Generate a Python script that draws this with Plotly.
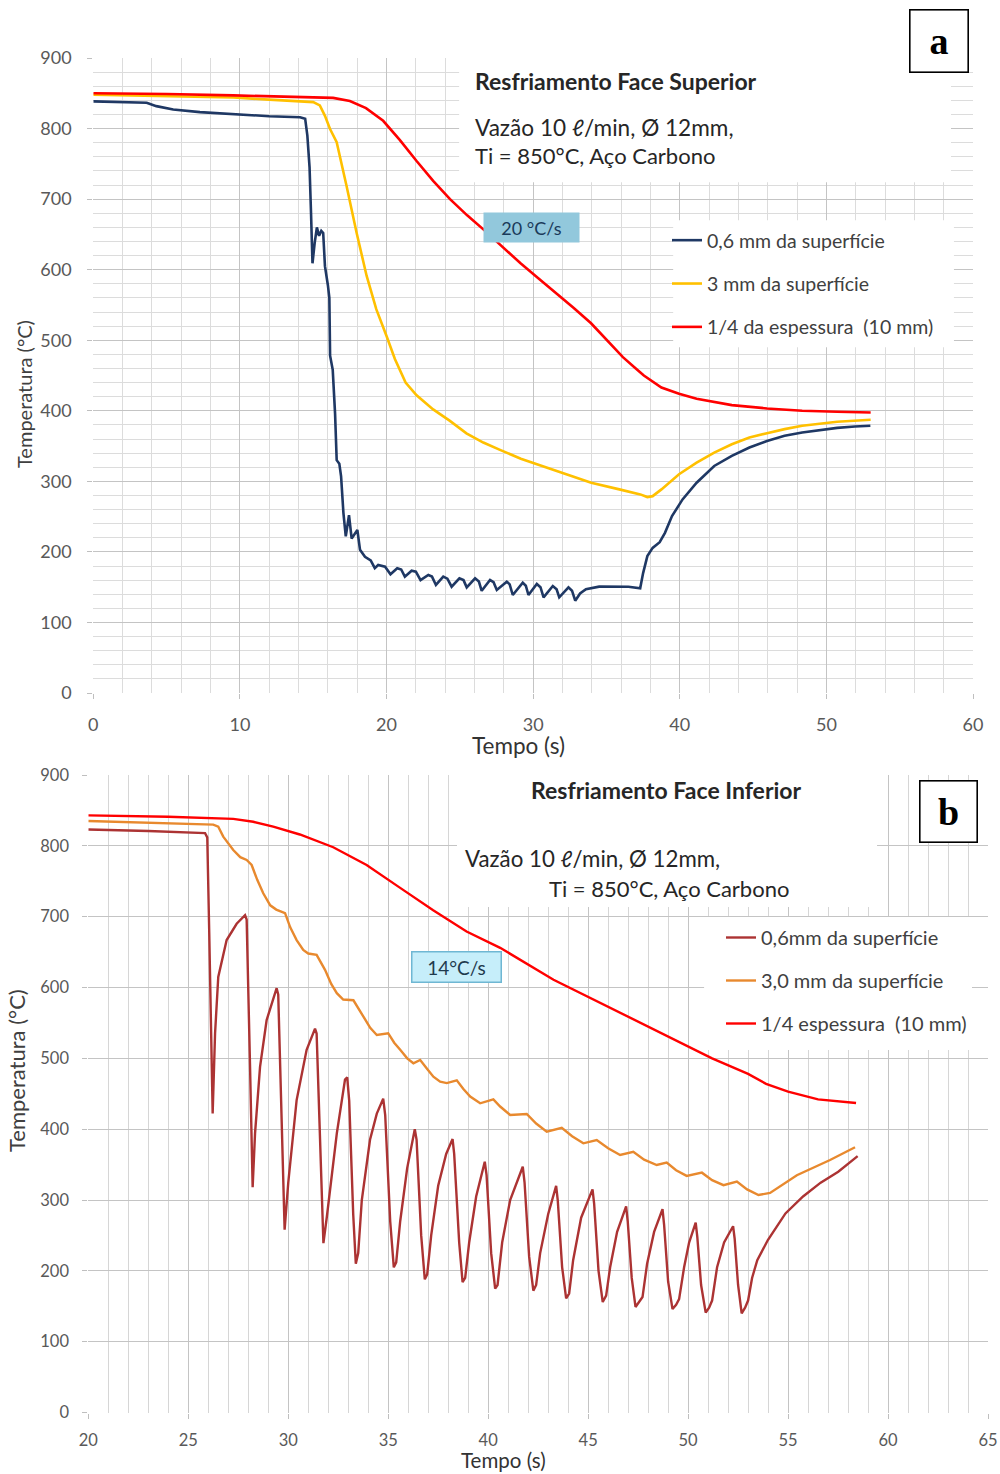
import plotly.graph_objects as go

# ---------------- Panel a (Resfriamento Face Superior) ----------------
a_blue_t = [0, 2, 3.64, 4.3, 5.45, 7.27, 10, 12, 14.1, 14.45, 14.6, 14.75, 14.85, 14.95, 15.1, 15.25,
            15.4, 15.55, 15.68, 15.8, 16.0, 16.1, 16.15, 16.33, 16.49, 16.6, 16.78, 16.9, 17.06, 17.22,
            17.44, 17.62, 18.01, 18.19, 18.53, 18.92, 19.2, 19.43, 19.9, 20.27, 20.73, 21.0, 21.25,
            21.71, 22.0, 22.32, 22.85, 23.1, 23.37, 23.87, 24.15, 24.44, 24.97, 25.25, 25.47, 26.04,
            26.3, 26.49, 27.06, 27.3, 27.52, 28.2, 28.4, 28.61, 29.29, 29.5, 29.68, 30.25, 30.5, 30.71,
            31.34, 31.6, 31.78, 32.41, 32.65, 32.87, 33.2, 33.6, 34.5, 35.5, 36.5, 37.3, 37.5, 37.79,
            38.15, 38.63, 38.99, 39.47, 40.19, 41.15, 42.35, 43.55, 44.75, 45.95, 47.15, 48.35, 49.54,
            50.74, 51.94, 53.0]
a_blue_T = [838.5, 838, 836.6, 831.8, 827, 823.3, 819.5, 817.5, 816, 814, 790, 745, 680, 609, 638, 660,
            648, 655, 652, 605, 578, 560, 478, 458, 396, 330, 325, 307, 255, 222,
            252, 219, 231, 203, 193, 188, 177, 181.4, 179, 168.2, 176.7, 175, 164.9,
            173.4, 172, 160.1, 167.2, 165, 153.1, 164.9, 162, 150.7, 162.5, 160, 149.7, 162.5,
            158, 144.9, 160.1, 157, 146.0, 157.8, 154, 138.9, 156.4, 152, 138.9, 154.5, 150, 135.6,
            151.6, 147, 135.6, 149.7, 145, 130.8, 141, 147, 150.7, 151, 150.5, 148.5, 170, 194,
            205.7, 213.7, 227, 250.7, 274.4, 298, 321.8, 336, 347.9, 357.3, 364.5, 369.2, 373,
            375.8, 377.7, 378.7]

a_yellow_t = [0, 5, 9.55, 12, 14, 15, 15.45, 15.8, 16.14, 16.6, 17.27, 17.95, 18.64, 19.3, 20.0, 20.57,
              21.3, 22.05, 23.18, 24.3, 25.45, 26.6, 27.7, 29.16, 31.56, 33.96, 35.88, 37.31, 37.79,
              38.15, 38.75, 39.95, 41.15, 42.35, 43.55, 44.75, 45.95, 47.15, 48.35, 49.54, 50.74, 53.02]
a_yellow_T = [848, 846, 844, 841, 838.5, 837.5, 832.8, 818, 799.7, 780.7, 719, 653, 591.4, 544, 506, 473.4,
              440, 422, 402, 386, 368, 355, 345, 332, 315, 298, 288.6, 281.5, 277.7,
              279, 288.6, 310, 326.5, 340.8, 352.6, 362, 368.2, 374, 378.7, 382, 384.4, 387.2]

a_red_t = [0, 5, 9.55, 14.1, 16.36, 17.5, 18.6, 19.77, 20.9, 22.05, 23.18, 24.33, 25.5, 26.72, 27.9,
           29.14, 30.35, 31.56, 32.75, 33.95, 35.05, 36.12, 37.0, 37.55, 38.75, 39.95, 41.15, 43.55,
           45.95, 48.35, 50.74, 53.02]
a_red_T = [850, 849, 847, 845, 843.5, 839, 829, 811, 784, 754, 726, 700, 677, 655, 632,
           609, 588, 567, 546, 524, 500, 476, 460, 450, 433, 424, 417, 408,
           403.3, 400, 398.6, 397.6]

# ---------------- Panel b (Resfriamento Face Inferior) ----------------
b_dark_t = [20, 23, 25.84, 25.95, 26.05, 26.22, 26.34, 26.5, 26.92, 27.42, 27.84, 27.92, 28.09, 28.22,
            28.34, 28.59, 28.92, 29.42, 29.5, 29.67, 29.82, 30.0, 30.42, 30.92, 31.34, 31.42, 31.6,
            31.76, 31.93, 32.43, 32.84, 32.95, 33.05, 33.25, 33.38, 33.5, 33.68, 34.09, 34.43, 34.75,
            34.85, 35.1, 35.28, 35.4, 35.6, 35.95, 36.33, 36.42, 36.65, 36.83, 36.95, 37.15, 37.5,
            37.9, 38.22, 38.3, 38.55, 38.72, 38.85, 39.05, 39.4, 39.83, 39.92, 40.15, 40.35, 40.47,
            40.7, 41.1, 41.73, 41.82, 42.05, 42.26, 42.4, 42.6, 43.0, 43.4, 43.48, 43.7, 43.9, 44.05,
            44.25, 44.65, 45.22, 45.3, 45.52, 45.73, 45.9, 46.1, 46.45, 46.9, 46.98, 47.18, 47.37,
            47.55, 47.72, 47.95, 48.3, 48.72, 48.8, 49.0, 49.22, 49.4, 49.55, 49.8, 50.05, 50.38,
            50.46, 50.65, 50.88, 51.05, 51.2, 51.45, 51.8, 52.25, 52.33, 52.5, 52.68, 52.85, 53.0,
            53.2, 53.46, 53.99, 54.87, 55.75, 56.63, 57.51, 58.48]
b_dark_T = [823, 821, 818, 812, 676, 422, 535, 615, 667, 690, 702, 696, 488, 318,
            394, 488, 554, 599, 590, 394, 258, 324, 441, 512, 542, 535, 380,
            239, 276, 394, 470, 473, 440, 280, 210, 225, 300, 385, 422, 443,
            420, 270, 205, 212, 270, 345, 400, 385, 250, 188, 195, 250, 320,
            365, 386, 365, 240, 184, 190, 240, 305, 354, 335, 225, 175, 180,
            240, 300, 347, 325, 220, 172, 180, 225, 280, 320, 300, 205, 161, 168,
            215, 275, 315, 295, 200, 156, 165, 205, 255, 291, 270, 190, 149,
            156, 163, 210, 255, 287, 265, 185, 146, 152, 160, 205, 240, 268,
            248, 180, 141, 148, 158, 205, 240, 263, 245, 180, 140, 148, 158,
            190, 215, 243.5, 281, 305, 324.5, 340, 362]

b_orange_t = [20, 24, 26.25, 26.5, 26.75, 27.25, 27.6, 27.92, 28.17, 28.45, 28.75, 29.1, 29.4, 29.84,
              30.1, 30.42, 30.75, 31.0, 31.42, 31.84, 32.15, 32.43, 32.75, 33.26, 33.5, 33.76, 34.1,
              34.43, 35.0, 35.3, 35.6, 35.95, 36.26, 36.6, 36.95, 37.26, 37.6, 37.93, 38.43, 38.75,
              39.1, 39.6, 40.26, 40.6, 41.1, 41.93, 42.4, 42.93, 43.68, 44.2, 44.76, 45.43, 46.0,
              46.6, 47.26, 47.8, 48.43, 48.93, 49.4, 49.93, 50.69, 51.2, 51.77, 52.44, 52.95, 53.52,
              54.1, 55.44, 57.1, 58.35]
b_orange_T = [835, 832, 830, 827, 813, 794, 784, 780, 773, 752, 733, 716, 710, 705,
              685, 667, 653, 648, 646, 625, 605, 592, 583, 582, 570, 559, 543,
              533, 535.5, 522, 512, 500, 493, 497.7, 485, 474, 467, 465, 469, 457,
              446, 436.5, 442, 432, 420, 421.4, 408, 396.5, 402, 390, 380, 384.7, 373,
              363.5, 368, 357, 349.4, 352.7, 342, 334, 338.6, 328, 321, 326, 315, 307,
              310, 335, 356.5, 374.4]

b_red_t = [20, 24, 27.25, 28.25, 29.25, 30.58, 32.25, 33.92, 35.58, 37.25, 38.92, 40.6, 43.27, 45.9,
           48.6, 51.2, 53.0, 53.9, 55.0, 56.5, 58.4]
b_red_T = [843, 841, 838, 834, 827, 816, 798, 773, 741, 709, 679, 656, 611, 574,
           536, 500, 478, 464, 453, 442, 437]

a_names = ["0,6 mm da superfície", "3 mm da superfície", "1/4 da espessura  (10 mm)"]
b_names = ["0,6mm da superfície", "3,0 mm da superfície", "1/4 espessura  (10 mm)"]

FONT = "Lato"
TICKC = "#595959"
TXT = "#262626"

W, H = 1000, 1474


def SX(sx):
    return sx / W


def SY(sy):
    return 1 - sy / H


fig = go.Figure()
for t, T, nm, col, g in [(a_blue_t, a_blue_T, a_names[0], "#1f3864", "a1"),
                         (a_yellow_t, a_yellow_T, a_names[1], "#ffc000", "a2"),
                         (a_red_t, a_red_T, a_names[2], "#ff0000", "a3")]:
    fig.add_trace(go.Scatter(x=t, y=T, mode="lines", name=nm, line=dict(color=col, width=2.6),
                             xaxis="x", yaxis="y", legend="legend", legendgroup=g))
for t, T, nm, col, g in [(b_dark_t, b_dark_T, b_names[0], "#ac3333", "b1"),
                         (b_orange_t, b_orange_T, b_names[1], "#e8892e", "b2"),
                         (b_red_t, b_red_T, b_names[2], "#ff0000", "b3")]:
    fig.add_trace(go.Scatter(x=t, y=T, mode="lines", name=nm, line=dict(color=col, width=2.4),
                             xaxis="x2", yaxis="y2", legend="legend2", legendgroup=g))

common = dict(showline=False, zeroline=False, ticks="outside", ticklen=5, tickcolor="#bfbfbf",
              gridcolor="#c4c4c4", gridwidth=1, automargin=False)

fig.update_layout(
    width=W, height=H, margin=dict(l=0, r=0, t=0, b=0, autoexpand=False),
    paper_bgcolor="white", plot_bgcolor="white", showlegend=True,
    font=dict(family=FONT, color=TXT),
    xaxis=dict(domain=[SX(93.3), SX(973)], range=[0, 60], tick0=0, dtick=10, anchor="y",
               tickfont=dict(size=18, color=TICKC), ticklabelstandoff=10,
               minor=dict(dtick=2, showgrid=True, gridcolor="#dcdcdc"), **common),
    yaxis=dict(domain=[SY(693), SY(58)], range=[0, 900], tick0=0, dtick=100, anchor="x",
               tickfont=dict(size=18, color=TICKC), ticklabelstandoff=12,
               minor=dict(dtick=20, showgrid=True, gridcolor="#dcdcdc"), **common),
    xaxis2=dict(domain=[SX(88.3), SX(988)], range=[20, 65], tick0=20, dtick=5, anchor="y2",
                tickfont=dict(size=16.5, color=TICKC), ticklabelstandoff=8,
                minor=dict(dtick=1, showgrid=True, gridcolor="#d6d6d6"), **common),
    yaxis2=dict(domain=[SY(1412.5), SY(775)], range=[0, 900], tick0=0, dtick=100, anchor="x2",
                tickfont=dict(size=16.5, color=TICKC), ticklabelstandoff=10, **common),
    legend=dict(x=SX(667), y=SY(221), xanchor="left", yanchor="top", bgcolor="rgba(0,0,0,0)",
                font=dict(size=19.5, color="#404040", family=FONT), tracegroupgap=15, itemwidth=30),
    legend2=dict(x=SX(721), y=SY(918), xanchor="left", yanchor="top", bgcolor="rgba(0,0,0,0)",
                 font=dict(size=20, color="#404040", family=FONT), tracegroupgap=14, itemwidth=30),
    shapes=[
        dict(type="rect", xref="x", yref="y", x0=24.95, x1=58.5, y0=724, y1=915,
             fillcolor="white", line=dict(width=0), layer="between"),
        dict(type="rect", xref="x", yref="y", x0=39.55, x1=58.7, y0=490, y1=670,
             fillcolor="white", line=dict(width=0), layer="between"),
        dict(type="rect", xref="x2", yref="y2", x0=38.44, x1=59.45, y0=713.7, y1=915,
             fillcolor="white", line=dict(width=0), layer="between"),
        dict(type="rect", xref="x2", yref="y2", x0=50.8, x1=64.2, y0=511.8, y1=699.6,
             fillcolor="white", line=dict(width=0), layer="between"),
    ],
)


def txt(sx, sy, text, size, color=TXT, xa="left", angle=0, family=FONT):
    return dict(xref="paper", yref="paper", x=SX(sx), y=SY(sy), xanchor=xa, yanchor="middle",
                text=text, showarrow=False, textangle=angle, font=dict(size=size, color=color, family=family))


ann = [
    # panel a
    txt(473, 81, "<b>Resfriamento Face Superior</b>", 23),
    txt(473, 127, "Vazão 10 ℓ/min, Ø 12mm,", 22.6),
    txt(473, 156, "Ti = 850°C, Aço Carbono", 22),
    txt(518.5, 745, "Tempo (s)", 22.5, "#333333", xa="center"),
    txt(24, 394, "Temperatura (°C)", 20, "#404040", xa="center", angle=-90),
    dict(xref="x", yref="y", x=29.92, y=659.7, text="20 °C/s", showarrow=False,
         width=95, height=29, bgcolor="#92c8dc", borderpad=0, font=dict(size=18, color="#1a3a5a")),
    dict(xref="paper", yref="paper", x=SX(938.5), y=SY(40.5), xanchor="center", yanchor="middle",
         text="<b>a</b>", showarrow=False, width=57, height=61, bgcolor="white", bordercolor="black",
         borderwidth=1.6, borderpad=0, font=dict(size=38, color="black", family="Liberation Serif")),
    # panel b
    txt(666, 790, "<b>Resfriamento Face Inferior</b>", 23, xa="center"),
    txt(463, 858, "Vazão 10 ℓ/min, Ø 12mm,", 22.3),
    txt(547, 888, "Ti = 850°C, Aço Carbono", 22),
    txt(503.5, 1460, "Tempo (s)", 20.5, "#333333", xa="center"),
    txt(16, 1071, "Temperatura (°C)", 22, "#404040", xa="center", angle=-90),
    dict(xref="x2", yref="y2", x=38.42, y=629.0, text="14°C/s", showarrow=False,
         width=88, height=29, bgcolor="#c6eefa", bordercolor="#6fb7d3", borderwidth=1.5, borderpad=0,
         font=dict(size=19, color="#1f3a4d")),
    dict(xref="paper", yref="paper", x=SX(948.5), y=SY(811.5), xanchor="center", yanchor="middle",
         text="<b>b</b>", showarrow=False, width=56, height=60, bgcolor="white", bordercolor="black",
         borderwidth=1.6, borderpad=0, font=dict(size=38, color="black", family="Liberation Serif")),
]
fig.update_layout(annotations=ann)

fig.write_html("out.html", config={"displayModeBar": False},
               post_script="document.body.style.margin='0px';document.body.style.overflow='hidden';")
